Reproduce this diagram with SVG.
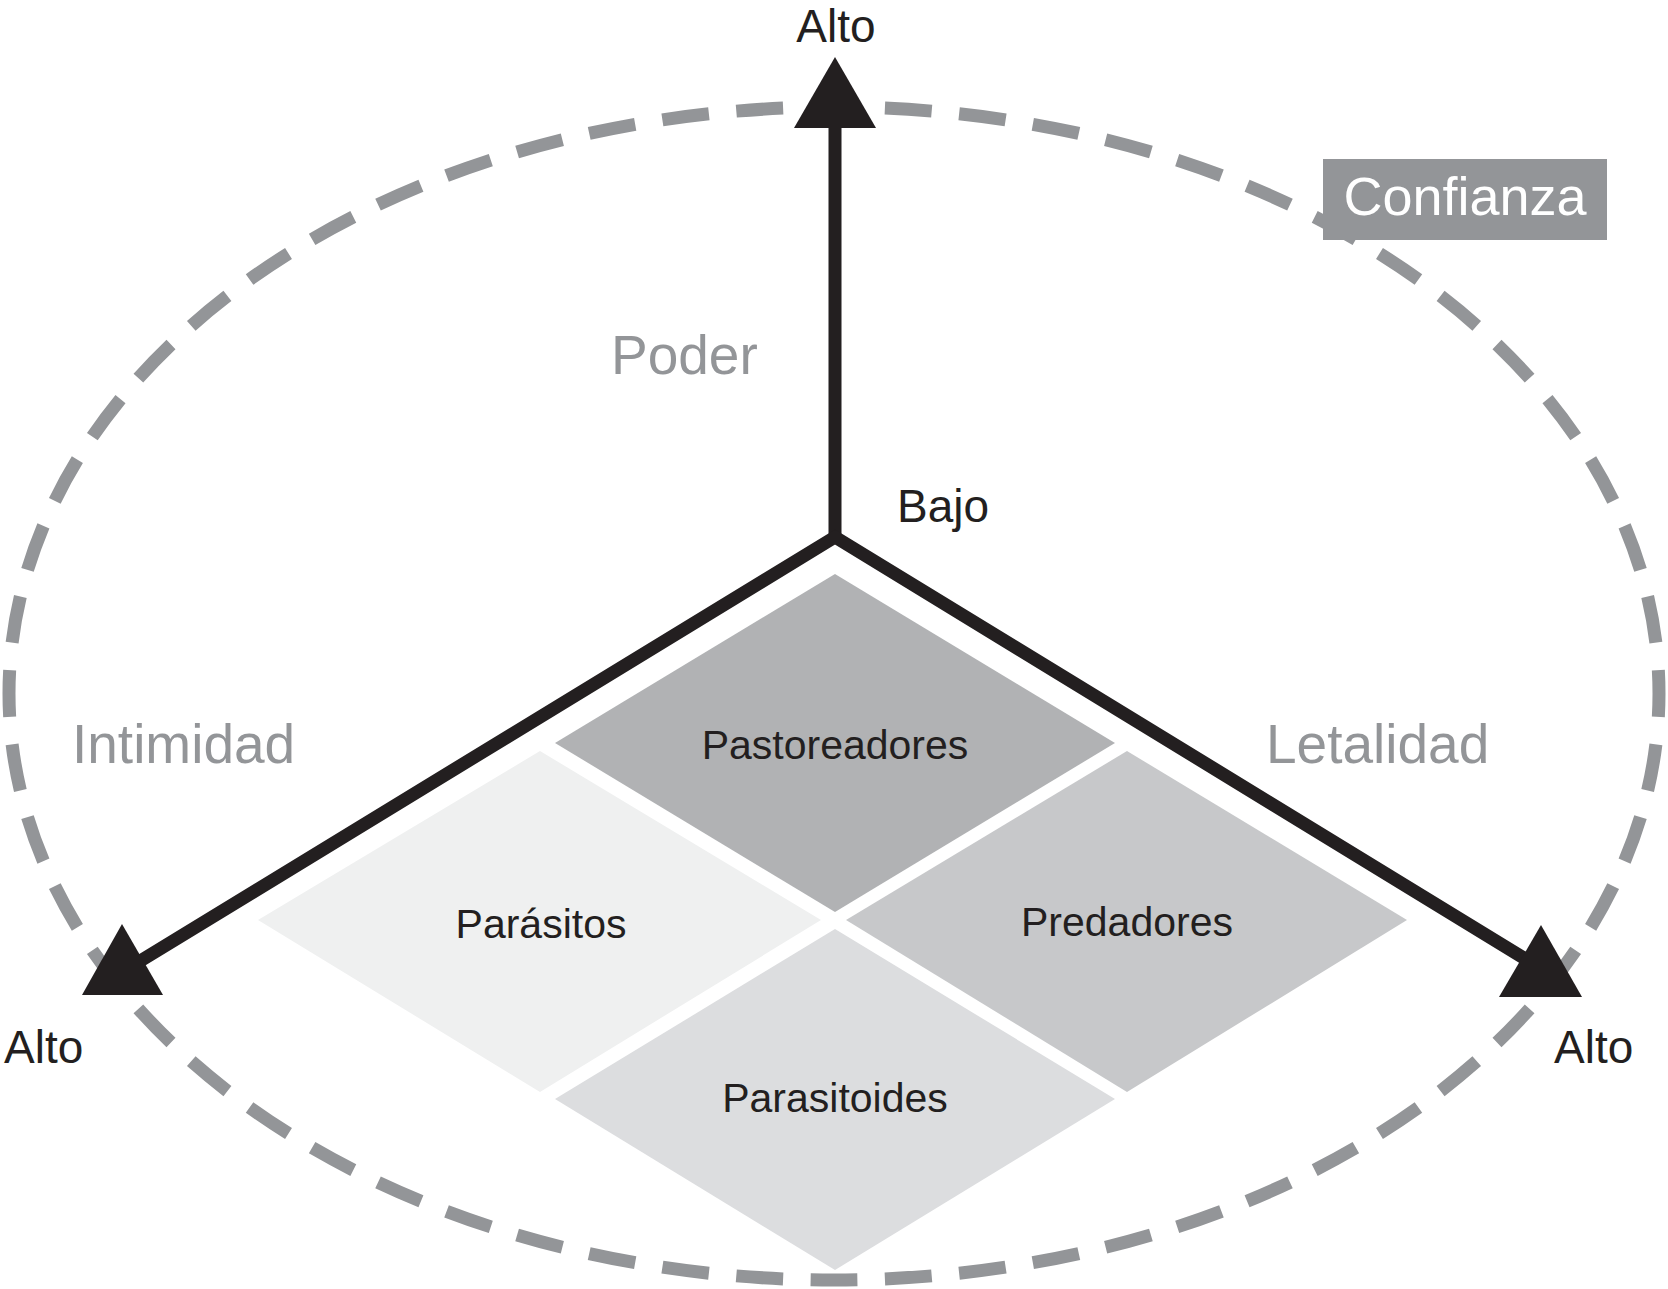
<svg xmlns="http://www.w3.org/2000/svg" width="1668" height="1289" viewBox="0 0 1668 1289">
  <style>
    .lbl { font-family: "Liberation Sans", Arial, sans-serif; fill: #231f20; }
    .dim { font-family: "Liberation Sans", Arial, sans-serif; fill: #939598; font-size: 55px; }
    .cell { font-family: "Liberation Sans", Arial, sans-serif; fill: #231f20; font-size: 41px; text-anchor: middle; }
    .axis { stroke: #231f20; stroke-width: 13; fill: none; }
    .head { fill: #231f20; }
  </style>
  <rect x="0" y="0" width="1668" height="1289" fill="#ffffff"/>

  <g id="boundary">
    <path d="M 834 1280 A 825 586.5 0 1 1 834 107 A 825 586.5 0 1 1 834 1280" fill="none" stroke="#939598" stroke-width="13" pathLength="6000" stroke-dasharray="63 37" stroke-dashoffset="31.5"/>
  </g>

  <g id="node-pastoreadores">
    <polygon points="835,574 1115,743 835,912 555,743" fill="#b1b2b4"/>
    <text class="cell" x="835" y="759">Pastoreadores</text>
  </g>
  <g id="node-parasitos">
    <polygon points="540,751 821,920 540,1092 258,920" fill="#eff0f0"/>
    <text class="cell" x="541" y="938">Parásitos</text>
  </g>
  <g id="node-predadores">
    <polygon points="1127,751 1407,920 1127,1092 846,920" fill="#c7c8ca"/>
    <text class="cell" x="1127" y="936">Predadores</text>
  </g>
  <g id="node-parasitoides">
    <polygon points="835,929 1115,1099 835,1270 555,1099" fill="#dcdddf"/>
    <text class="cell" x="835" y="1112">Parasitoides</text>
  </g>

  <g id="connectors">
    <line class="axis" x1="835" y1="537" x2="835" y2="120"/>
    <path class="axis" d="M 132 966 L 835 537 L 1537 966" stroke-linejoin="miter"/>
    <polygon class="head" points="835,57 876,128 794,128"/>
    <polygon class="head" points="122,924 163,995 82,995"/>
    <polygon class="head" points="1541,925 1582,997 1499,997"/>
  </g>

  <g id="label-confianza">
    <rect x="1323" y="159" width="284" height="81" fill="#939598"/>
    <text x="1465" y="215" font-family="Liberation Sans, Arial, sans-serif" font-size="54" fill="#ffffff" text-anchor="middle">Confianza</text>
  </g>

  <g id="axis-labels">
    <text class="lbl" x="836" y="42" font-size="46" text-anchor="middle">Alto</text>
    <text class="lbl" x="897" y="522" font-size="46">Bajo</text>
    <text class="lbl" x="4" y="1063" font-size="46">Alto</text>
    <text class="lbl" x="1554" y="1063" font-size="46">Alto</text>
    <text class="dim" x="611" y="374">Poder</text>
    <text class="dim" x="72" y="763">Intimidad</text>
    <text class="dim" x="1266" y="763">Letalidad</text>
  </g>
</svg>
